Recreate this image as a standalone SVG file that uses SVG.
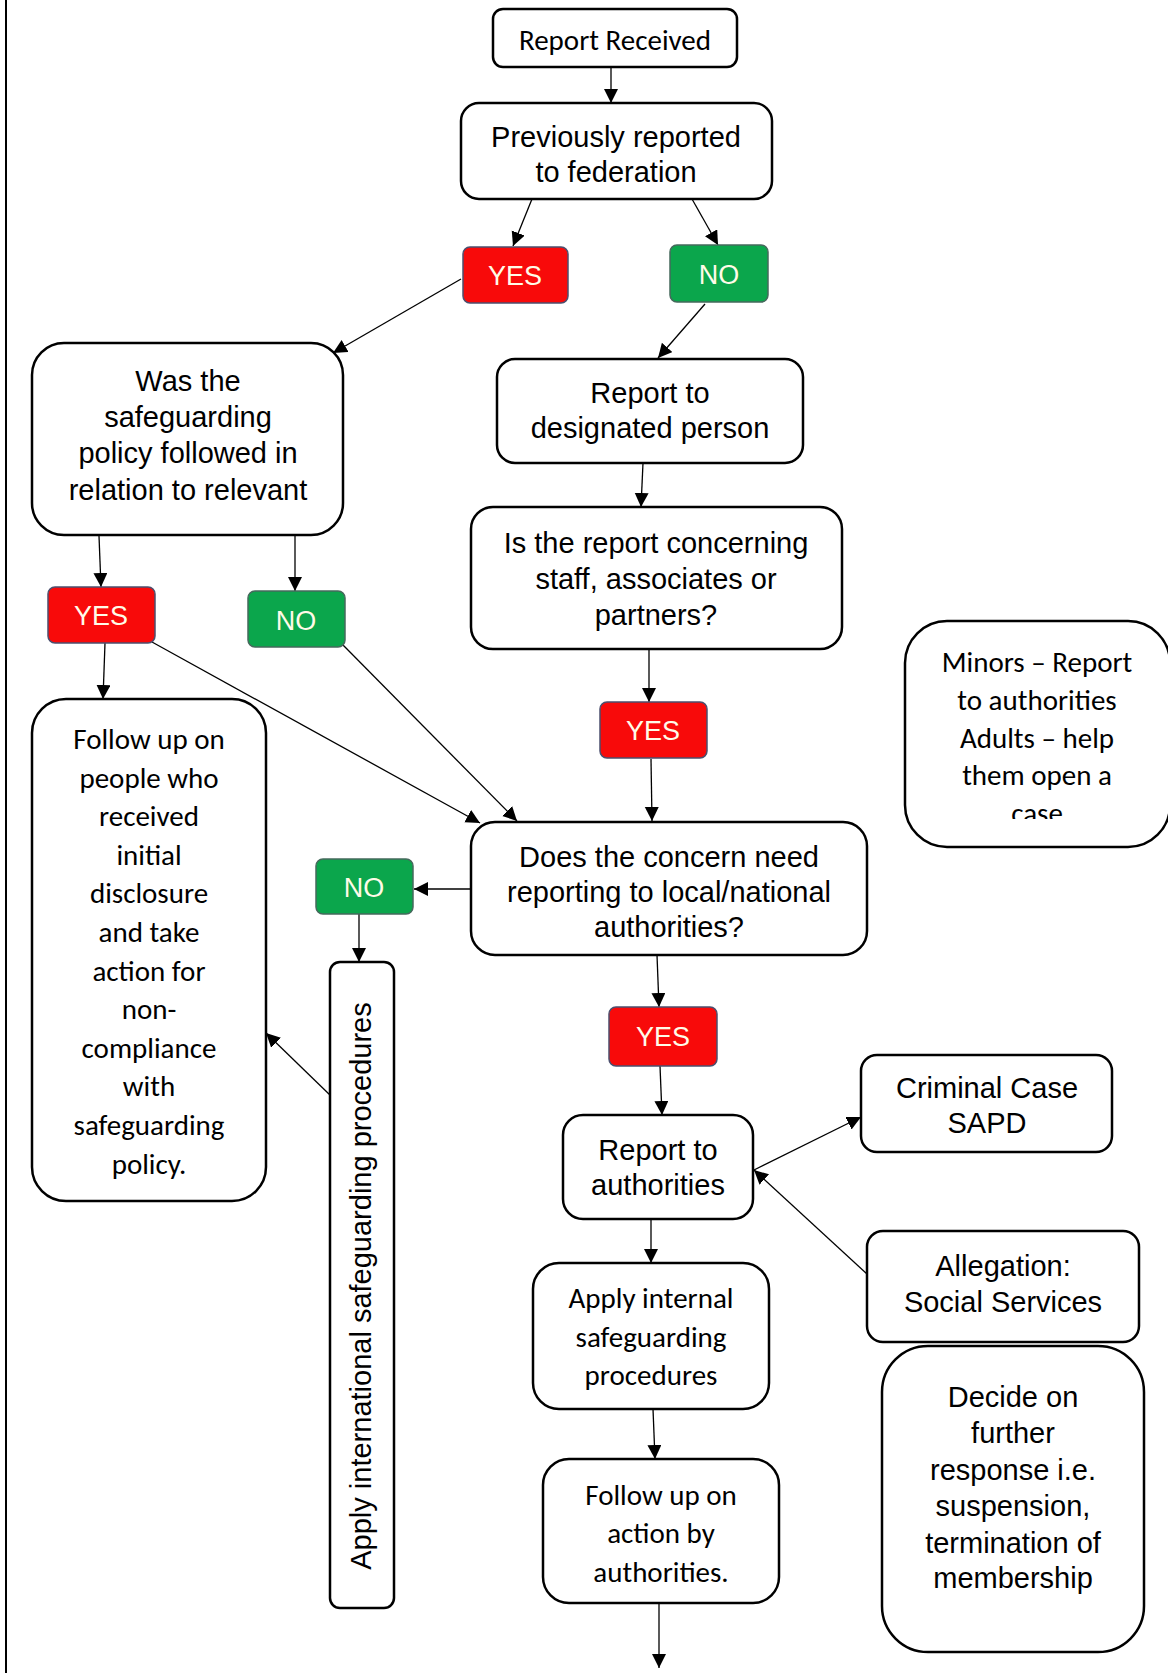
<svg xmlns="http://www.w3.org/2000/svg" width="1168" height="1673" viewBox="0 0 1168 1673">
<defs>
<style>
.box{fill:#fff;stroke:#000;stroke-width:2.5}
.ar{font-family:"Liberation Sans",Arial,sans-serif;font-size:29px;fill:#000;text-anchor:middle}
.ca{font-family:Carlito,Lato,"Liberation Sans",sans-serif;font-size:29px;fill:#000;text-anchor:middle}
.yes{fill:#f80a0a;stroke:#4b4f6e;stroke-width:1.5}
.no{fill:#0ba64c;stroke:#45695c;stroke-width:1.5}
.lbl{font-family:"Liberation Sans",Arial,sans-serif;font-size:27px;fill:#fffbe8;text-anchor:middle}
.con line{stroke:#000;stroke-width:1.3;marker-end:url(#ah)}
</style>
<marker id="ah" markerUnits="userSpaceOnUse" markerWidth="16" markerHeight="16" refX="14" refY="7" orient="auto">
<path d="M0,0 L14,7 L0,14 z" fill="#000"/>
</marker>
<clipPath id="clipMinors"><rect x="880" y="600" width="288" height="219"/></clipPath>
</defs>
<rect x="0" y="0" width="1168" height="1673" fill="#fff"/>
<line x1="6" y1="0" x2="6" y2="1673" stroke="#000" stroke-width="2"/>

<g id="connectors" class="con">
<line x1="611" y1="67" x2="611" y2="103"/>
<line x1="532" y1="199" x2="513" y2="246"/>
<line x1="692" y1="199" x2="718" y2="245"/>
<line x1="461" y1="279" x2="333" y2="353"/>
<line x1="705" y1="304" x2="658" y2="358"/>
<line x1="643" y1="463" x2="641" y2="507"/>
<line x1="99" y1="536" x2="101" y2="587"/>
<line x1="295" y1="536" x2="295" y2="591"/>
<line x1="105" y1="643" x2="103" y2="699"/>
<line x1="152" y1="642" x2="480" y2="823"/>
<line x1="343" y1="645" x2="517" y2="821"/>
<line x1="649" y1="649" x2="649" y2="702"/>
<line x1="651" y1="759" x2="652" y2="821"/>
<line x1="471" y1="889" x2="414" y2="889"/>
<line x1="359" y1="914" x2="359" y2="962"/>
<line x1="331" y1="1096" x2="266" y2="1033"/>
<line x1="657" y1="955" x2="659" y2="1007"/>
<line x1="660" y1="1066" x2="662" y2="1115"/>
<line x1="754" y1="1170" x2="861" y2="1117"/>
<line x1="867" y1="1274" x2="754" y2="1170"/>
<line x1="651" y1="1219" x2="651" y2="1263"/>
<line x1="653" y1="1409" x2="655" y2="1459"/>
<line x1="659" y1="1603" x2="659" y2="1668"/>
</g>

<g id="report-received">
<rect class="box" x="493" y="9" width="244" height="58" rx="10"/>
<text class="ca" x="615" y="50">Report Received</text>
</g>

<g id="previously-reported">
<rect class="box" x="461" y="103" width="311" height="96" rx="18"/>
<text class="ar" x="616" y="147">Previously reported</text>
<text class="ar" x="616" y="182">to federation</text>
</g>

<g id="yes-1">
<rect class="yes" x="463" y="247" width="105" height="56" rx="7"/>
<text class="lbl" x="515" y="285">YES</text>
</g>

<g id="no-1">
<rect class="no" x="670" y="245" width="98" height="57" rx="7"/>
<text class="lbl" x="719" y="284">NO</text>
</g>

<g id="was-policy-followed">
<rect class="box" x="32" y="343" width="311" height="192" rx="32"/>
<text class="ar" x="188" y="391">Was the</text>
<text class="ar" x="188" y="427">safeguarding</text>
<text class="ar" x="188" y="463">policy followed in</text>
<text class="ar" x="188" y="500">relation to relevant</text>
</g>

<g id="report-designated">
<rect class="box" x="497" y="359" width="306" height="104" rx="18"/>
<text class="ar" x="650" y="403">Report to</text>
<text class="ar" x="650" y="438">designated person</text>
</g>

<g id="is-report-concerning">
<rect class="box" x="471" y="507" width="371" height="142" rx="22"/>
<text class="ar" x="656" y="553">Is the report concerning</text>
<text class="ar" x="656" y="589">staff, associates or</text>
<text class="ar" x="656" y="625">partners?</text>
</g>

<g id="yes-2">
<rect class="yes" x="48" y="587" width="107" height="56" rx="7"/>
<text class="lbl" x="101" y="625">YES</text>
</g>

<g id="no-2">
<rect class="no" x="248" y="591" width="97" height="56" rx="7"/>
<text class="lbl" x="296" y="630">NO</text>
</g>

<g id="minors">
<rect class="box" x="905" y="621" width="265" height="226" rx="42"/>
<text class="ca" x="1037" y="672">Minors – Report</text>
<text class="ca" x="1037" y="710">to authorities</text>
<text class="ca" x="1037" y="748">Adults – help</text>
<text class="ca" x="1037" y="785">them open a</text>
<text class="ca" x="1037" y="823" clip-path="url(#clipMinors)">case</text>
</g>

<g id="yes-3">
<rect class="yes" x="600" y="702" width="107" height="56" rx="7"/>
<text class="lbl" x="653" y="740">YES</text>
</g>

<g id="follow-up-people">
<rect class="box" x="32" y="699" width="234" height="502" rx="34"/>
<text class="ca" x="149" y="749">Follow up on</text>
<text class="ca" x="149" y="788">people who</text>
<text class="ca" x="149" y="826">received</text>
<text class="ca" x="149" y="865">initial</text>
<text class="ca" x="149" y="903">disclosure</text>
<text class="ca" x="149" y="942">and take</text>
<text class="ca" x="149" y="981">action for</text>
<text class="ca" x="149" y="1019">non-</text>
<text class="ca" x="149" y="1058">compliance</text>
<text class="ca" x="149" y="1096">with</text>
<text class="ca" x="149" y="1135">safeguarding</text>
<text class="ca" x="149" y="1174">policy.</text>
</g>

<g id="does-concern-need">
<rect class="box" x="471" y="822" width="396" height="133" rx="24"/>
<text class="ar" x="669" y="867">Does the concern need</text>
<text class="ar" x="669" y="902">reporting to local/national</text>
<text class="ar" x="669" y="937">authorities?</text>
</g>

<g id="no-3">
<rect class="no" x="316" y="859" width="97" height="55" rx="7"/>
<text class="lbl" x="364" y="897">NO</text>
</g>

<g id="apply-international">
<rect class="box" x="330" y="962" width="64" height="646" rx="10"/>
<text class="ar" transform="translate(371,1286) rotate(-90)" x="0" y="0">Apply international safeguarding procedures</text>
</g>

<g id="yes-4">
<rect class="yes" x="609" y="1007" width="108" height="59" rx="7"/>
<text class="lbl" x="663" y="1046">YES</text>
</g>

<g id="criminal-case">
<rect class="box" x="861" y="1055" width="251" height="97" rx="16"/>
<text class="ar" x="987" y="1098">Criminal Case</text>
<text class="ar" x="987" y="1133">SAPD</text>
</g>

<g id="report-authorities">
<rect class="box" x="563" y="1115" width="190" height="104" rx="20"/>
<text class="ar" x="658" y="1160">Report to</text>
<text class="ar" x="658" y="1195">authorities</text>
</g>

<g id="allegation">
<rect class="box" x="867" y="1231" width="272" height="111" rx="16"/>
<text class="ar" x="1003" y="1276">Allegation:</text>
<text class="ar" x="1003" y="1312">Social Services</text>
</g>

<g id="apply-internal">
<rect class="box" x="533" y="1263" width="236" height="146" rx="26"/>
<text class="ca" x="651" y="1308">Apply internal</text>
<text class="ca" x="651" y="1347">safeguarding</text>
<text class="ca" x="651" y="1385">procedures</text>
</g>

<g id="decide-further">
<rect class="box" x="882" y="1346" width="262" height="306" rx="46"/>
<text class="ar" x="1013" y="1407">Decide on</text>
<text class="ar" x="1013" y="1443">further</text>
<text class="ar" x="1013" y="1480">response i.e.</text>
<text class="ar" x="1013" y="1516">suspension,</text>
<text class="ar" x="1013" y="1553">termination of</text>
<text class="ar" x="1013" y="1588">membership</text>
</g>

<g id="follow-up-action">
<rect class="box" x="543" y="1459" width="236" height="144" rx="26"/>
<text class="ca" x="661" y="1505">Follow up on</text>
<text class="ca" x="661" y="1543">action by</text>
<text class="ca" x="661" y="1582">authorities.</text>
</g>
</svg>
